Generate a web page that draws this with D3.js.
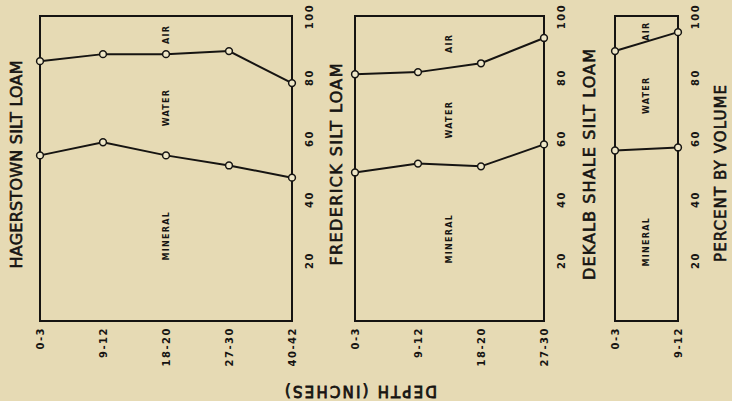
<!DOCTYPE html>
<html>
<head>
<meta charset="utf-8">
<script src="https://cdn.jsdelivr.net/npm/d3@7"></script>
<style>
  html, body { margin: 0; padding: 0; background: #e6dab4; }
  svg { display: block; }
</style>
</head>
<body>
<div id="chart"></div>
<script>
// soil profiles: percent by volume of mineral / water / air with depth
const soils = ["HAGERSTOWN SILT LOAM", "FREDERICK SILT LOAM", "DEKALB SHALE SILT LOAM"];
const depthLabels = [
  ["0-3", "9-12", "18-20", "27-30", "40-42"],
  ["0-3", "9-12", "18-20", "27-30"],
  ["0-3", "9-12"]
];
// upper edge of the water band (water / air boundary)
const waterTop = [
  [85.2, 87.5, 87.5, 88.5, 78.0],
  [80.9, 81.6, 84.5, 92.8],
  [88.5, 94.7]
];
// upper edge of the mineral band (mineral / water boundary)
const mineralTop = [
  [54.3, 58.6, 54.3, 51.0, 47.0],
  [48.7, 51.6, 50.7, 57.9],
  [55.9, 56.9]
];
const pctTicks = [20, 40, 60, 80, 100];
const zoneNames = ["AIR", "WATER", "MINERAL"];
const zonePct = [[94, 70, 28], [91, 66, 27], [95, 74, 26]];

const W = 732, H = 401;
const ink = "#161412";
const paper = "#e6dab4";
const font = "DejaVu Sans, sans-serif";

const svg = d3.select("#chart").append("svg")
  .attr("width", W).attr("height", H)
  .attr("viewBox", `0 0 ${W} ${H}`);

svg.append("rect").attr("width", W).attr("height", H).attr("fill", paper);

const y = d3.scaleLinear().domain([0, 100]).range([321, 16]);

const step = 63;
const panelLeft = [40, 355, 615];
const titleX = [16, 336, 589];
const titleLen = [208, 202, 231];

// lettering-style heading: regular face thickened with a thin stroke
function heading(sel, size, len) {
  return sel.attr("text-anchor", "middle").attr("dy", "0.36em")
    .attr("font-family", font).attr("font-size", size + "px")
    .attr("textLength", len).attr("lengthAdjust", "spacing")
    .attr("fill", ink).attr("stroke", ink).attr("stroke-width", 0.6);
}

soils.forEach((name, i) => {
  const n = depthLabels[i].length;
  const x0 = panelLeft[i], x1 = x0 + step * (n - 1);
  const x = d3.scalePoint().domain(depthLabels[i]).range([x0, x1]);
  const g = svg.append("g");

  // title
  heading(g.append("text")
    .attr("transform", `translate(${titleX[i]},${(y(100) + y(0)) / 2 - 4}) rotate(-90)`), 16, titleLen[i])
    .text(name);

  // frame
  g.append("rect")
    .attr("x", x0).attr("y", y(100))
    .attr("width", x1 - x0).attr("height", y(0) - y(100))
    .attr("fill", "none").attr("stroke", ink).attr("stroke-width", 2);

  // boundary lines
  const line = d3.line().x((d, k) => x(depthLabels[i][k])).y(d => y(d));
  [waterTop[i], mineralTop[i]].forEach(series => {
    g.append("path").datum(series)
      .attr("d", line).attr("fill", "none")
      .attr("stroke", ink).attr("stroke-width", 2);
    g.selectAll(null).data(series).join("circle")
      .attr("cx", (d, k) => x(depthLabels[i][k])).attr("cy", d => y(d))
      .attr("r", 3.4).attr("fill", "#efe7c8")
      .attr("stroke", ink).attr("stroke-width", 1.5);
  });

  // zone labels
  const xm = (x0 + x1) / 2;
  zoneNames.forEach((z, k) => {
    g.append("text")
      .attr("transform", `translate(${xm},${y(zonePct[i][k])}) rotate(-90)`)
      .attr("text-anchor", "middle").attr("dy", "0.36em")
      .attr("font-family", font).attr("font-size", "8px").attr("font-weight", "bold")
      .attr("letter-spacing", "1.3px")
      .attr("fill", ink).text(z);
  });

  // percent axis on the right
  const ay = g.append("g")
    .attr("transform", `translate(${x1 + 17},0)`)
    .call(d3.axisRight(y).tickValues(pctTicks).tickSize(0).tickPadding(0));
  ay.select(".domain").remove();
  ay.selectAll("text")
    .attr("x", 0).attr("y", 0).attr("dy", "0.36em")
    .attr("transform", "rotate(-90)").attr("text-anchor", "middle")
    .attr("font-family", font).attr("font-size", "10px").attr("font-weight", "bold")
    .attr("letter-spacing", "1.6px").attr("fill", ink);

  // depth axis below
  const ax = g.append("g")
    .attr("transform", `translate(0,${y(0) + 6})`)
    .call(d3.axisBottom(x).tickSize(0).tickPadding(0));
  ax.select(".domain").remove();
  ax.selectAll("text")
    .attr("x", 0).attr("y", 0).attr("dy", "0.36em")
    .attr("transform", "rotate(-90)").attr("text-anchor", "end")
    .attr("font-family", font).attr("font-size", "10px").attr("font-weight", "bold")
    .attr("letter-spacing", "1.5px").attr("fill", ink);
});

// shared axis titles
heading(svg.append("text")
  .attr("transform", `translate(721,${(y(100) + y(0)) / 2 + 5}) rotate(-90)`), 15, 177)
  .text("PERCENT BY VOLUME");

heading(svg.append("text")
  .attr("transform", "translate(361,391) rotate(180)"), 15, 152)
  .attr("stroke-width", 0.8)
  .text("DEPTH (INCHES)");
</script>
</body>
</html>
